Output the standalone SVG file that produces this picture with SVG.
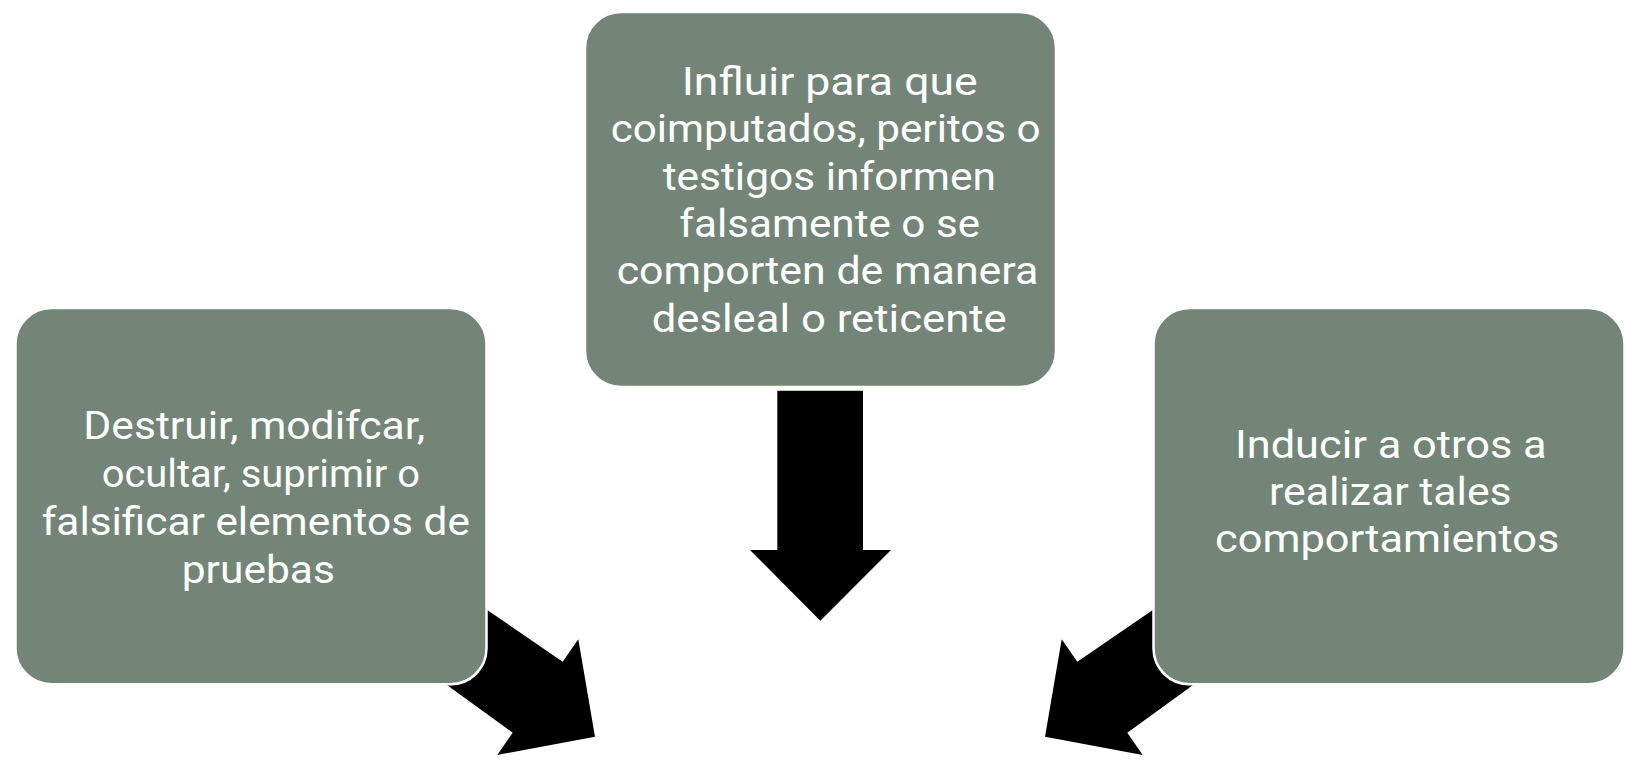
<svg xmlns="http://www.w3.org/2000/svg" width="1626" height="764" viewBox="0 0 1626 764">
<style>
.box{fill:#728577;stroke:#ffffff;stroke-width:2.5}
.arrow{fill:#000000;stroke:none}
.t{font-family:Roboto,"Noto Sans","Liberation Sans",sans-serif;font-size:39px;fill:#ffffff;text-anchor:middle}
</style>
<rect width="1626" height="764" fill="#ffffff"/>
<g id="connectors">
<polygon class="arrow" points="455.3,588.1 488.3,610.7 562.7,661.7 578.3,639.3 595,736.7 497.3,755 512.7,732.7 449.3,686.7 416.9,663.2"/>
<polygon class="arrow" points="777.3,390.7 863,390.7 863,550 891,550 820.3,620.7 750,550 777.3,550"/>
<polygon class="arrow" points="1184.7,588.1 1151.7,610.7 1077.3,661.7 1061.7,639.3 1045,736.7 1142.7,755 1127.3,732.7 1190.7,686.7 1223.1,663.2"/>
</g>
<g id="node-left">
<rect class="box" x="15.5" y="308" width="471" height="376.3" rx="36" ry="36"/>
<text class="t" x="254.2" y="439.3" textLength="341.7" lengthAdjust="spacingAndGlyphs">Destruir, modifcar,</text>
<text class="t" x="260.8" y="487.3" textLength="318.3" lengthAdjust="spacingAndGlyphs">ocultar, suprimir o</text>
<text class="t" x="255.8" y="535.3" textLength="428.3" lengthAdjust="spacingAndGlyphs">falsificar elementos de</text>
<text class="t" x="258.3" y="583.3" textLength="153.3" lengthAdjust="spacingAndGlyphs">pruebas</text>
</g>
<g id="node-middle">
<rect class="box" x="585" y="12" width="471" height="375" rx="36" ry="36"/>
<text class="t" x="829.7" y="95" textLength="296" lengthAdjust="spacingAndGlyphs">Influir para que</text>
<text class="t" x="825.7" y="142.3" textLength="430" lengthAdjust="spacingAndGlyphs">coimputados, peritos o</text>
<text class="t" x="829.3" y="189.6" textLength="333.3" lengthAdjust="spacingAndGlyphs">testigos informen</text>
<text class="t" x="829.7" y="236.9" textLength="300.7" lengthAdjust="spacingAndGlyphs">falsamente o se</text>
<text class="t" x="827.5" y="284.2" textLength="421.7" lengthAdjust="spacingAndGlyphs">comporten de manera</text>
<text class="t" x="829.2" y="331.5" textLength="355" lengthAdjust="spacingAndGlyphs">desleal o reticente</text>
</g>
<g id="node-right">
<rect class="box" x="1153.5" y="308" width="471" height="376.3" rx="36" ry="36"/>
<text class="t" x="1390.8" y="458.3" textLength="311.7" lengthAdjust="spacingAndGlyphs">Inducir a otros a</text>
<text class="t" x="1390.3" y="505" textLength="242.7" lengthAdjust="spacingAndGlyphs">realizar tales</text>
<text class="t" x="1387.2" y="551.7" textLength="344.3" lengthAdjust="spacingAndGlyphs">comportamientos</text>
</g>
</svg>
